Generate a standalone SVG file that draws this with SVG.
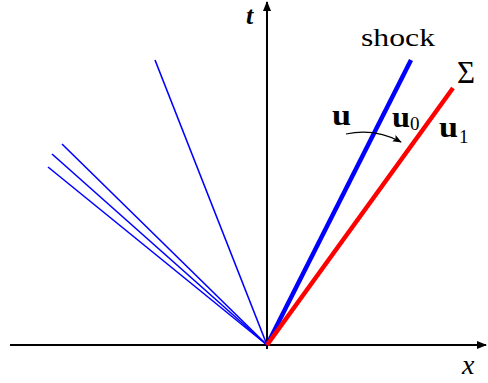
<svg xmlns="http://www.w3.org/2000/svg" width="488" height="383" viewBox="0 0 488 383">
<style>
.ax{stroke:#000;stroke-width:2;fill:none}
.fan{stroke:#0000ff;stroke-width:1.6;fill:none}
.lbl{font-family:"Liberation Serif","DejaVu Serif",serif;fill:#000}
.ub{font-size:29px;font-weight:bold}
.sub{font-size:19px;font-weight:normal}
</style>
<defs>
<marker id="ah" viewBox="0 0 10 10" refX="9" refY="5" markerWidth="9" markerHeight="9" markerUnits="userSpaceOnUse" orient="auto"><path d="M0,1 L10,5 L0,9 L2,5 Z" fill="#000"/></marker>
<marker id="ah2" viewBox="0 0 10 10" refX="9" refY="5" markerWidth="10" markerHeight="10" markerUnits="userSpaceOnUse" orient="auto"><path d="M0,1 L10,5 L0,9 Z" fill="#000"/></marker>
</defs>
<g id="axes">
<line class="ax" x1="10" y1="345" x2="486" y2="345" marker-end="url(#ah2)"/>
<line class="ax" x1="267" y1="349" x2="267" y2="2" marker-end="url(#ah2)"/>
</g>
<g id="fan">
<line class="fan" x1="267" y1="345" x2="155" y2="60"/>
<line class="fan" x1="267" y1="345" x2="62" y2="144"/>
<line class="fan" x1="267" y1="345" x2="52" y2="154"/>
<line class="fan" x1="267" y1="345" x2="48" y2="167"/>
</g>
<g id="shock">
<line x1="267" y1="345" x2="411" y2="60" stroke="#0000ff" stroke-width="4.5"/>
</g>
<g id="sigma">
<line x1="267" y1="345" x2="453" y2="88" stroke="#ff0000" stroke-width="4.5"/>
</g>
<g id="connectors">
<path d="M346,134 Q375,128 401,142" fill="none" stroke="#000" stroke-width="1.2" marker-end="url(#ah)"/>
</g>
<g id="labels">
<text class="lbl" x="246" y="24" font-size="26" font-weight="bold" font-style="italic">t</text>
<text class="lbl" x="462" y="374" font-size="28" font-style="italic">x</text>
<text class="lbl" x="361" y="46" font-size="26" textLength="74" lengthAdjust="spacingAndGlyphs">shock</text>
<text class="lbl" x="457" y="83" font-size="31">Σ</text>
<text class="lbl ub" x="332" y="125" textLength="19" lengthAdjust="spacingAndGlyphs">u</text>
<text class="lbl ub" x="392" y="127" textLength="18" lengthAdjust="spacingAndGlyphs">u</text>
<text class="lbl sub" x="410" y="130">0</text>
<text class="lbl ub" x="439" y="137" textLength="19" lengthAdjust="spacingAndGlyphs">u</text>
<text class="lbl sub" x="459" y="143">1</text>
</g>
</svg>
